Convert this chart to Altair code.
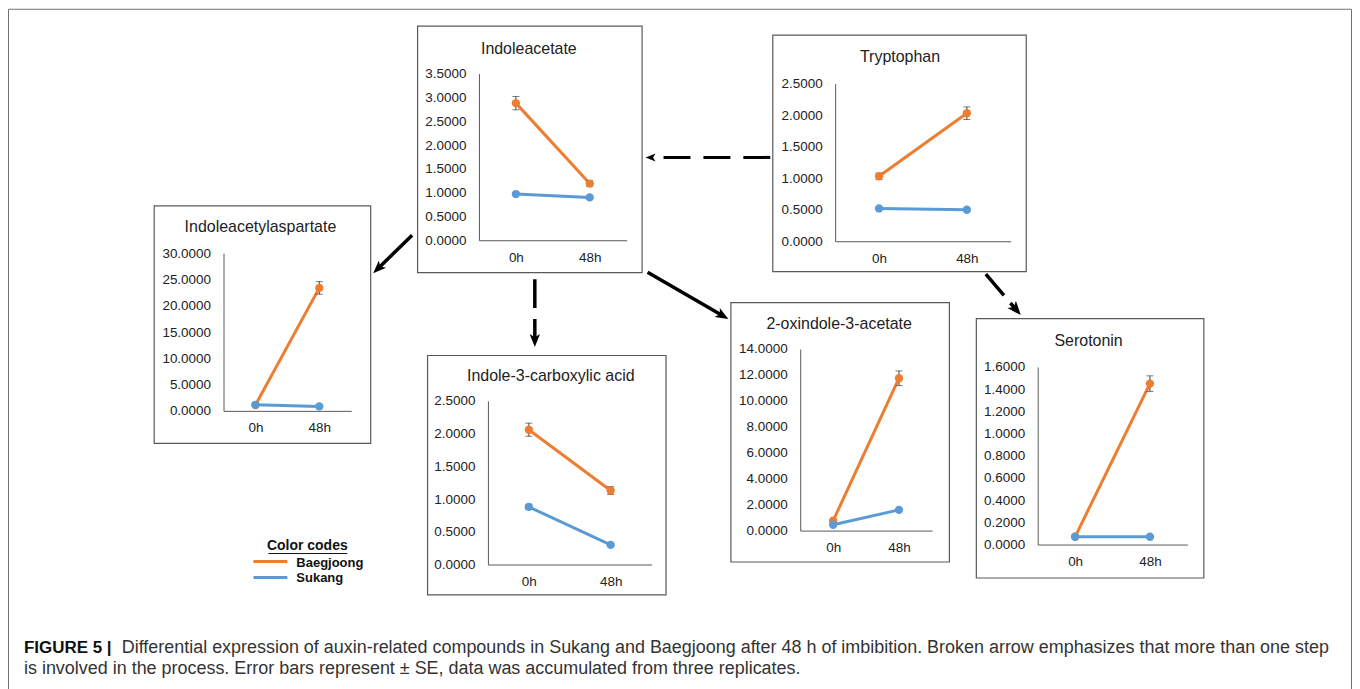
import math
import altair as alt
import pandas as pd

# ---------------- data ----------------
compounds = ["Indoleacetate", "Tryptophan", "Indoleacetylaspartate",
             "Indole-3-carboxylic acid", "2-oxindole-3-acetate", "Serotonin"]
times = ["0h", "48h"]
cultivars = ["Baegjoong", "Sukang"]
baegjoong_0h = [2.88, 1.03, 1.10, 2.06, 0.76, 0.07]
baegjoong_48h = [1.19, 2.03, 23.40, 1.13, 11.75, 1.45]
baegjoong_se_0h = [0.14, 0.05, 0.15, 0.10, 0.06, 0.005]
baegjoong_se_48h = [0.06, 0.10, 1.20, 0.06, 0.56, 0.07]
sukang_0h = [0.97, 0.52, 1.15, 0.88, 0.45, 0.07]
sukang_48h = [0.90, 0.50, 0.85, 0.30, 1.60, 0.07]
sukang_se_0h = [0.03, 0.02, 0.05, 0.04, 0.03, 0.004]
sukang_se_48h = [0.03, 0.02, 0.05, 0.02, 0.06, 0.004]
y_max = [3.5, 2.5, 30, 2.5, 14, 1.6]
y_step = [0.5, 0.5, 5, 0.5, 2, 0.2]

caption_bold = "FIGURE 5 |"
caption_line1 = ("Differential expression of auxin-related compounds in Sukang and Baegjoong "
                 "after 48 h of imbibition. Broken arrow emphasizes that more than one step")
caption_line2 = ("is involved in the process. Error bars represent \u00b1 SE, data was "
                 "accumulated from three replicates.")

# ---------------- layout (page pixels) ----------------
W, H = 1347, 681
OFF = 8
FONT = "Liberation Sans"
ORANGE = "#ED7D31"
BLUE = "#5B9BD5"
ERR = "#404040"
AX = "#595959"
LBL = "#222222"
BOXC = "#5a5a5a"

# panel box (x0, y0, x1, y1)
BOX = [(418, 25, 643, 272), (774, 34, 1028, 271), (154, 205, 371, 443),
       (428, 355, 667, 595), (732, 302, 951, 562), (978, 318, 1206, 578)]
# plot area (left, right, bottom, top)
PLOT = [(480, 628, 240, 73), (837, 1013, 241, 83), (224, 352, 411, 253),
        (489, 653, 565, 401), (802, 934, 531, 349), (1040, 1190, 545, 367)]
TITLE = [(530, 48), (902, 56), (261, 227), (552, 376), (841, 324), (1091, 341)]
# arrows: start x, start y, tip x, tip y, dash, head length, stroke width
ARROWS = [
    (772, 157, 647, 157, [27, 13], 10, 3),
    (413, 235, 374, 273, None, 13, 3.5),
    (536, 279, 536, 347, [29, 11], 13, 3.5),
    (649, 272, 730, 319, None, 13, 3.5),
    (988, 274, 1023, 315, [28, 10], 14, 3.5),
]
HEAD = "M0,-1L0.8,1L0,0.5L-0.8,1Z"


def px(v):
    return v - OFF


one = pd.DataFrame({"k": [0]})
layers = []

# outer frame
layers.append(alt.Chart(one).mark_rect(fillOpacity=0, stroke="#707070", strokeWidth=1).encode(
    x=alt.value(0.5), x2=alt.value(W - 0.5), y=alt.value(0.5), y2=alt.value(H + 20)))

# panel boxes
for (x0, y0, x1, y1) in BOX:
    layers.append(alt.Chart(one).mark_rect(fillOpacity=0, stroke=BOXC, strokeWidth=1.2).encode(
        x=alt.value(px(x0) + 0.5), x2=alt.value(px(x1) + 0.5),
        y=alt.value(px(y0) + 0.5), y2=alt.value(px(y1) + 0.5)))

# arrows
for (xs_, ys_, xt, yt, dash, hl, sw) in ARROWS:
    dx, dy = xt - xs_, yt - ys_
    d = math.hypot(dx, dy)
    ux, uy = dx / d, dy / d
    cxh, cyh = xt - ux * hl / 2, yt - uy * hl / 2
    ang = math.degrees(math.atan2(dx, -dy)) % 360
    kw = dict(color="black", strokeWidth=sw)
    if dash:
        kw["strokeDash"] = dash
    layers.append(alt.Chart(one).mark_rule(**kw).encode(
        x=alt.value(px(xs_)), y=alt.value(px(ys_)),
        x2=alt.value(px(cxh)), y2=alt.value(px(cyh))))
    layers.append(alt.Chart(one).mark_point(shape=HEAD, filled=True, color="black", opacity=1,
                                            size=hl * hl, angle=ang, strokeWidth=0).encode(
        x=alt.value(px(cxh)), y=alt.value(px(cyh))))


def text(s, x, y, size, weight="normal", align="center", color=LBL):
    return alt.Chart(one).mark_text(text=s, align=align, baseline="middle", font=FONT,
                                    fontSize=size, fontWeight=weight, color=color).encode(
        x=alt.value(px(x)), y=alt.value(px(y)))


# titles
for i, name in enumerate(compounds):
    layers.append(text(name, TITLE[i][0], TITLE[i][1], 16))

# legend
layers.append(text("Color codes", 308, 546, 14, "bold", color="#111"))
layers.append(alt.Chart(one).mark_rule(color="#111", strokeWidth=1).encode(
    x=alt.value(px(269)), x2=alt.value(px(348)), y=alt.value(px(554)), y2=alt.value(px(554))))
for c, col, yy in [(cultivars[0], ORANGE, 562), (cultivars[1], BLUE, 578)]:
    layers.append(alt.Chart(one).mark_rule(color=col, strokeWidth=3).encode(
        x=alt.value(px(254)), x2=alt.value(px(288)), y=alt.value(px(yy)), y2=alt.value(px(yy))))
    layers.append(text(c, 297, yy + 1, 13, "bold", align="left", color="#111"))

# caption
layers.append(text(caption_bold, 24, 649, 17, "bold", align="left", color="#111"))
layers.append(text(caption_line1, 122, 649, 18, align="left", color="#333"))
layers.append(text(caption_line2, 24, 670, 18, align="left", color="#333"))


def panel(i):
    df = pd.DataFrame({
        "time": times + times,
        "cultivar": [cultivars[0]] * 2 + [cultivars[1]] * 2,
        "mean": [baegjoong_0h[i], baegjoong_48h[i], sukang_0h[i], sukang_48h[i]],
        "se": [baegjoong_se_0h[i], baegjoong_se_48h[i], sukang_se_0h[i], sukang_se_48h[i]],
    })
    df["lo"] = df["mean"] - df["se"]
    df["hi"] = df["mean"] + df["se"]
    left, right, bottom, top = PLOT[i]
    xs = alt.Scale(type="point", domain=times, range=[px(left), px(right)], padding=0.5)
    ys = alt.Scale(type="linear", domain=[0, y_max[i]], range=[px(bottom), px(top)],
                   nice=False, zero=False)
    n = int(round(y_max[i] / y_step[i]))
    vals = [round(k * y_step[i], 6) for k in range(n + 1)]
    xaxis = alt.Axis(orient="bottom", offset=-(H - px(bottom)), title=None, labelAngle=0,
                     ticks=False, tickSize=0, grid=False, labelPadding=10, domainColor=AX,
                     domainWidth=1, labelColor=LBL, labelFont=FONT, labelFontSize=13.5)
    yaxis = alt.Axis(orient="left", offset=-px(left), title=None, values=vals, format=".4f",
                     ticks=False, tickSize=0, grid=False, labelPadding=13, domainColor=AX,
                     domainWidth=1, labelColor=LBL, labelFont=FONT, labelFontSize=13.5,
                     labelOverlap=False, labelFlush=False)
    X = alt.X("time:N", scale=xs, axis=xaxis, sort=times)
    color = alt.Color("cultivar:N", scale=alt.Scale(domain=cultivars, range=[ORANGE, BLUE]),
                      legend=None)
    base = alt.Chart(df)
    line = base.mark_line(strokeWidth=3).encode(
        x=X, y=alt.Y("mean:Q", scale=ys, axis=yaxis), color=color)
    pts = base.mark_circle(size=70, opacity=1).encode(
        x=X, y=alt.Y("mean:Q", scale=ys, axis=yaxis), color=color)
    err = base.mark_rule(color=ERR, strokeWidth=1).encode(
        x=X, y=alt.Y("lo:Q", scale=ys, axis=yaxis), y2="hi:Q")
    cap_lo = base.mark_tick(color=ERR, orient="horizontal", size=7, thickness=1).encode(
        x=X, y=alt.Y("lo:Q", scale=ys, axis=yaxis))
    cap_hi = base.mark_tick(color=ERR, orient="horizontal", size=7, thickness=1).encode(
        x=X, y=alt.Y("hi:Q", scale=ys, axis=yaxis))
    return alt.layer(line, err, cap_lo, cap_hi, pts)


for i in range(len(compounds)):
    layers.append(panel(i))

chart = alt.layer(*layers).resolve_scale(
    x="independent", y="independent"
).properties(
    width=W, height=H, padding=0, autosize=alt.AutoSizeParams(type="none"),
    background="white"
).configure_view(strokeWidth=0)

chart.save("out.html", embed_options={"renderer": "svg", "actions": False})
